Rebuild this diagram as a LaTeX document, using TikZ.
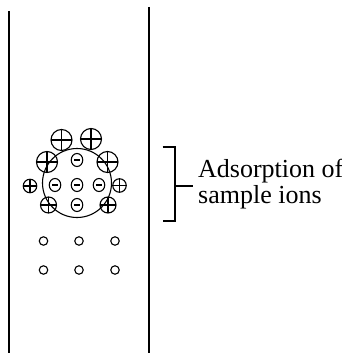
\documentclass[tikz,border=0pt]{standalone}
\usepackage{fontspec}
\setmainfont{Liberation Serif}
\usetikzlibrary{shapes.geometric}
\begin{document}
\begin{tikzpicture}[x=1pt,y=-1pt,
  wall/.style={line width=1.3pt},
  ring/.style={line width=1.1pt},
  cation/.style={circle,draw,ring,inner sep=0pt,minimum size=#1,
    path picture={\draw[ring]
      (path picture bounding box.north) -- (path picture bounding box.south)
      (path picture bounding box.west) -- (path picture bounding box.east);}},
  anion/.style={ellipse,draw,ring,inner sep=0pt,minimum width=11.5pt,minimum height=13pt,
    path picture={\draw[ring] ([xshift=-3pt]path picture bounding box.center) -- ([xshift=3pt]path picture bounding box.center);}},
  bead/.style={circle,draw,ring,inner sep=0pt,minimum size=8.5pt},
  caption/.style={font=\fontsize{26}{29}\selectfont,inner sep=0pt,anchor=base west}]
\useasboundingbox (0,0) rectangle (342,353);

% column walls
\coordinate (lt) at (9,11);   \coordinate (lb) at (9,353);
\coordinate (rt) at (149,7);  \coordinate (rb) at (149,353);
\draw[wall] (lt) -- (lb);
\draw[wall] (rt) -- (rb);

% stationary-phase particle
\node[circle,draw,ring,minimum size=69pt,inner sep=0pt] (core) at (77,183) {};

% bound anions inside the particle
\node[anion] (a1) at (77,160) {};
\node[anion] (a2) at (55,185) {};
\node[anion] (a3) at (77,185) {};
\node[anion] (a4) at (99,185) {};
\node[anion] (a5) at (77,205) {};

% adsorbed sample cations
\node[cation=21pt] (c1) at (61.5,140) {};
\node[cation=21pt] (c2) at (91,139) {};
\node[cation=21pt] (c3) at (47,162) {};
\node[cation=21pt] (c4) at (107.5,162) {};
\node[cation=13.5pt] (c5) at (30,186) {};
\node[cation=13.5pt] (c6) at (119.5,185.5) {};
\node[cation=16pt] (c7) at (48.5,205) {};
\node[cation=16pt] (c8) at (108,205) {};

% free particles below
\foreach \i/\x in {1/43.5,2/79,3/115}{
  \node[bead] (u\i) at (\x,241) {};
  \node[bead] (d\i) at (\x,270) {};
}

% bracket with label
\coordinate (bt0) at (162.5,147);
\coordinate (bt) at (175,147);
\coordinate (bb) at (175,221);
\coordinate (bb0) at (162.5,221);
\coordinate (bm) at (175,186);
\coordinate (bm1) at (192.5,186);
\draw[line width=1.1pt] (bt0) -- (bt) -- (bb) -- (bb0);
\draw[line width=1.1pt] (bm) -- (bm1);

\node[caption] (t1) at (198,177) {Adsorption of};
\node[caption] (t2) at (198,203) {sample ions};
\end{tikzpicture}
\end{document}
